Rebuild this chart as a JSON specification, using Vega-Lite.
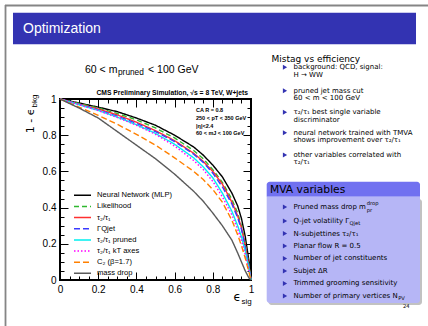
{
"$schema": "https://vega.github.io/schema/vega-lite/v6.json",
"width": 191, "height": 181,
"autosize": {"type": "none"},
"padding": {"left": 60, "top": 99, "right": 177, "bottom": 46},
"background": "white",
"config": {"view": {"stroke": "black", "strokeWidth": 2}, "text": {"font": "Liberation Sans", "color": "black"}},
"resolve": {"axis": {"x": "independent", "y": "independent"}},
"encoding": {
 "x": {"field": "x", "type": "quantitative", "scale": {"domain": [0, 1], "nice": false, "zero": false}, "axis": null},
 "y": {"field": "y", "type": "quantitative", "scale": {"domain": [0, 1], "nice": false, "zero": false}, "axis": null}
},
"layer": [
 {"data": {"values": [{"x": -0.288, "x2": 1.9267, "y": 1.5166, "y2": 1.5166}, {"x": -0.2853, "x2": -0.2853, "y": 1.519, "y2": -0.2541}]},
  "mark": {"type": "rule", "color": "#858585", "strokeWidth": 1.8},
  "encoding": {"x2": {"field": "x2"}, "y2": {"field": "y2"}}},
 {"data": {"values": [{"x": -0.2461, "x2": 1.8639, "y": 1.4768, "y2": 1.3022}]},
  "mark": {"type": "rect", "color": "#3333b2"},
  "encoding": {"x2": {"field": "x2"}, "y2": {"field": "y2"}}},
 {"data": {"values": [{"x": 1.0916, "x2": 1.8953, "y": 0.4475, "y2": -0.1381}]},
  "mark": {"type": "rect", "color": "#9a9a9a", "opacity": 0.6, "cornerRadius": 3},
  "encoding": {"x2": {"field": "x2"}, "y2": {"field": "y2"}}},
 {"data": {"values": [{"x": 1.0822, "x2": 1.8848, "y": 0.5431, "y2": 0.4602}]},
  "mark": {"type": "rect", "color": "#7171f0", "cornerRadiusTopLeft": 3, "cornerRadiusTopRight": 3},
  "encoding": {"x2": {"field": "x2"}, "y2": {"field": "y2"}}},
 {"data": {"values": [{"x": 1.0822, "x2": 1.8848, "y": 0.4602, "y2": -0.1271}]},
  "mark": {"type": "rect", "color": "#b6b6f6", "cornerRadiusBottomLeft": 3, "cornerRadiusBottomRight": 3},
  "encoding": {"x2": {"field": "x2"}, "y2": {"field": "y2"}}},
 {"data": {"values": [
  {"m":"Neural Network (MLP)","x":0,"y":1},{"m":"Neural Network (MLP)","x":0.1,"y":0.978},{"m":"Neural Network (MLP)","x":0.2,"y":0.955},{"m":"Neural Network (MLP)","x":0.3,"y":0.93},{"m":"Neural Network (MLP)","x":0.4,"y":0.895},{"m":"Neural Network (MLP)","x":0.5,"y":0.855},{"m":"Neural Network (MLP)","x":0.6,"y":0.8},{"m":"Neural Network (MLP)","x":0.7,"y":0.735},{"m":"Neural Network (MLP)","x":0.75,"y":0.69},{"m":"Neural Network (MLP)","x":0.8,"y":0.635},{"m":"Neural Network (MLP)","x":0.85,"y":0.57},{"m":"Neural Network (MLP)","x":0.9,"y":0.48},{"m":"Neural Network (MLP)","x":0.93,"y":0.41},{"m":"Neural Network (MLP)","x":0.95,"y":0.34},{"m":"Neural Network (MLP)","x":0.97,"y":0.24},{"m":"Neural Network (MLP)","x":0.99,"y":0.1},{"m":"Neural Network (MLP)","x":1,"y":0},
  {"m":"Likelihood","x":0,"y":1},{"m":"Likelihood","x":0.1,"y":0.975},{"m":"Likelihood","x":0.2,"y":0.95},{"m":"Likelihood","x":0.3,"y":0.92},{"m":"Likelihood","x":0.4,"y":0.885},{"m":"Likelihood","x":0.5,"y":0.84},{"m":"Likelihood","x":0.6,"y":0.785},{"m":"Likelihood","x":0.7,"y":0.715},{"m":"Likelihood","x":0.75,"y":0.67},{"m":"Likelihood","x":0.8,"y":0.61},{"m":"Likelihood","x":0.85,"y":0.54},{"m":"Likelihood","x":0.9,"y":0.445},{"m":"Likelihood","x":0.93,"y":0.37},{"m":"Likelihood","x":0.95,"y":0.3},{"m":"Likelihood","x":0.97,"y":0.2},{"m":"Likelihood","x":0.99,"y":0.08},{"m":"Likelihood","x":1,"y":0},
  {"m":"τ₂/τ₁","x":0,"y":1},{"m":"τ₂/τ₁","x":0.1,"y":0.972},{"m":"τ₂/τ₁","x":0.2,"y":0.945},{"m":"τ₂/τ₁","x":0.3,"y":0.912},{"m":"τ₂/τ₁","x":0.4,"y":0.872},{"m":"τ₂/τ₁","x":0.5,"y":0.825},{"m":"τ₂/τ₁","x":0.6,"y":0.77},{"m":"τ₂/τ₁","x":0.7,"y":0.7},{"m":"τ₂/τ₁","x":0.75,"y":0.655},{"m":"τ₂/τ₁","x":0.8,"y":0.6},{"m":"τ₂/τ₁","x":0.85,"y":0.53},{"m":"τ₂/τ₁","x":0.9,"y":0.43},{"m":"τ₂/τ₁","x":0.93,"y":0.355},{"m":"τ₂/τ₁","x":0.95,"y":0.29},{"m":"τ₂/τ₁","x":0.97,"y":0.19},{"m":"τ₂/τ₁","x":0.99,"y":0.07},{"m":"τ₂/τ₁","x":1,"y":0},
  {"m":"ΓQjet","x":0,"y":1},{"m":"ΓQjet","x":0.1,"y":0.97},{"m":"ΓQjet","x":0.2,"y":0.94},{"m":"ΓQjet","x":0.3,"y":0.905},{"m":"ΓQjet","x":0.4,"y":0.865},{"m":"ΓQjet","x":0.5,"y":0.82},{"m":"ΓQjet","x":0.6,"y":0.765},{"m":"ΓQjet","x":0.7,"y":0.695},{"m":"ΓQjet","x":0.75,"y":0.65},{"m":"ΓQjet","x":0.8,"y":0.59},{"m":"ΓQjet","x":0.85,"y":0.515},{"m":"ΓQjet","x":0.9,"y":0.42},{"m":"ΓQjet","x":0.93,"y":0.345},{"m":"ΓQjet","x":0.95,"y":0.28},{"m":"ΓQjet","x":0.97,"y":0.18},{"m":"ΓQjet","x":0.99,"y":0.07},{"m":"ΓQjet","x":1,"y":0},
  {"m":"τ₂/τ₁ pruned","x":0,"y":1},{"m":"τ₂/τ₁ pruned","x":0.1,"y":0.968},{"m":"τ₂/τ₁ pruned","x":0.2,"y":0.937},{"m":"τ₂/τ₁ pruned","x":0.3,"y":0.9},{"m":"τ₂/τ₁ pruned","x":0.4,"y":0.858},{"m":"τ₂/τ₁ pruned","x":0.5,"y":0.81},{"m":"τ₂/τ₁ pruned","x":0.6,"y":0.75},{"m":"τ₂/τ₁ pruned","x":0.7,"y":0.675},{"m":"τ₂/τ₁ pruned","x":0.75,"y":0.625},{"m":"τ₂/τ₁ pruned","x":0.8,"y":0.565},{"m":"τ₂/τ₁ pruned","x":0.85,"y":0.48},{"m":"τ₂/τ₁ pruned","x":0.9,"y":0.38},{"m":"τ₂/τ₁ pruned","x":0.93,"y":0.3},{"m":"τ₂/τ₁ pruned","x":0.95,"y":0.24},{"m":"τ₂/τ₁ pruned","x":0.97,"y":0.16},{"m":"τ₂/τ₁ pruned","x":0.99,"y":0.06},{"m":"τ₂/τ₁ pruned","x":1,"y":0},
  {"m":"τ₂/τ₁ kT axes","x":0,"y":1},{"m":"τ₂/τ₁ kT axes","x":0.1,"y":0.968},{"m":"τ₂/τ₁ kT axes","x":0.2,"y":0.936},{"m":"τ₂/τ₁ kT axes","x":0.3,"y":0.898},{"m":"τ₂/τ₁ kT axes","x":0.4,"y":0.855},{"m":"τ₂/τ₁ kT axes","x":0.5,"y":0.805},{"m":"τ₂/τ₁ kT axes","x":0.6,"y":0.74},{"m":"τ₂/τ₁ kT axes","x":0.7,"y":0.66},{"m":"τ₂/τ₁ kT axes","x":0.75,"y":0.61},{"m":"τ₂/τ₁ kT axes","x":0.8,"y":0.545},{"m":"τ₂/τ₁ kT axes","x":0.85,"y":0.46},{"m":"τ₂/τ₁ kT axes","x":0.9,"y":0.36},{"m":"τ₂/τ₁ kT axes","x":0.93,"y":0.28},{"m":"τ₂/τ₁ kT axes","x":0.95,"y":0.22},{"m":"τ₂/τ₁ kT axes","x":0.97,"y":0.14},{"m":"τ₂/τ₁ kT axes","x":0.99,"y":0.05},{"m":"τ₂/τ₁ kT axes","x":1,"y":0},
  {"m":"C₂ (β=1.7)","x":0,"y":1},{"m":"C₂ (β=1.7)","x":0.1,"y":0.955},{"m":"C₂ (β=1.7)","x":0.2,"y":0.91},{"m":"C₂ (β=1.7)","x":0.3,"y":0.86},{"m":"C₂ (β=1.7)","x":0.4,"y":0.805},{"m":"C₂ (β=1.7)","x":0.5,"y":0.745},{"m":"C₂ (β=1.7)","x":0.6,"y":0.675},{"m":"C₂ (β=1.7)","x":0.7,"y":0.6},{"m":"C₂ (β=1.7)","x":0.75,"y":0.555},{"m":"C₂ (β=1.7)","x":0.8,"y":0.5},{"m":"C₂ (β=1.7)","x":0.85,"y":0.43},{"m":"C₂ (β=1.7)","x":0.9,"y":0.33},{"m":"C₂ (β=1.7)","x":0.93,"y":0.25},{"m":"C₂ (β=1.7)","x":0.95,"y":0.19},{"m":"C₂ (β=1.7)","x":0.97,"y":0.12},{"m":"C₂ (β=1.7)","x":0.99,"y":0.04},{"m":"C₂ (β=1.7)","x":1,"y":0},
  {"m":"mass drop","x":0,"y":1},{"m":"mass drop","x":0.1,"y":0.95},{"m":"mass drop","x":0.2,"y":0.895},{"m":"mass drop","x":0.3,"y":0.82},{"m":"mass drop","x":0.4,"y":0.745},{"m":"mass drop","x":0.5,"y":0.67},{"m":"mass drop","x":0.6,"y":0.585},{"m":"mass drop","x":0.7,"y":0.49},{"m":"mass drop","x":0.75,"y":0.435},{"m":"mass drop","x":0.8,"y":0.37},{"m":"mass drop","x":0.85,"y":0.3},{"m":"mass drop","x":0.9,"y":0.22},{"m":"mass drop","x":0.93,"y":0.15},{"m":"mass drop","x":0.95,"y":0.1},{"m":"mass drop","x":0.97,"y":0.05},{"m":"mass drop","x":0.99,"y":0.01},{"m":"mass drop","x":1,"y":0}
 ]},
  "mark": {"type": "line", "strokeWidth": 1.4},
  "encoding": {
   "x": {"field": "x", "type": "quantitative", "scale": {"domain": [0, 1], "nice": false, "zero": false},
    "axis": {"orient": "bottom", "values": [0, 0.2, 0.4, 0.6, 0.8, 1], "format": "~g", "title": null, "domain": false, "grid": false, "tickSize": -8, "tickColor": "black", "tickWidth": 1, "labelFontSize": 10, "labelFont": "Liberation Sans", "labelColor": "black", "labelPadding": 12.5, "labelFlush": false, "labelOverlap": false}},
   "y": {"field": "y", "type": "quantitative", "scale": {"domain": [0, 1], "nice": false, "zero": false},
    "axis": {"orient": "left", "values": [0, 0.2, 0.4, 0.6, 0.8, 1], "format": "~g", "title": null, "domain": false, "grid": false, "tickSize": -8, "tickColor": "black", "tickWidth": 1, "labelFontSize": 10, "labelFont": "Liberation Sans", "labelColor": "black", "labelPadding": 12, "labelFlush": false, "labelOverlap": false}},
   "color": {"field": "m", "type": "nominal",
    "scale": {"domain": ["Neural Network (MLP)", "Likelihood", "τ₂/τ₁", "ΓQjet", "τ₂/τ₁ pruned", "τ₂/τ₁ kT axes", "C₂ (β=1.7)", "mass drop"],
              "range": ["#000000", "#2fb82f", "#ff3030", "#3a3aff", "#00f0f0", "#ff00ff", "#ff8000", "#5a5a5a"]},
    "legend": {"title": null, "orient": "none", "legendX": 13, "legendY": 92.5, "symbolType": "stroke", "symbolSize": 289, "symbolStrokeWidth": 1.5, "clipHeight": 7.6, "rowPadding": 2.15, "labelFontSize": 7.6, "labelFont": "Liberation Sans", "labelColor": "black", "labelOffset": 5, "padding": 0, "labelLimit": 200}},
   "strokeDash": {"field": "m", "type": "nominal",
    "scale": {"domain": ["Neural Network (MLP)", "Likelihood", "τ₂/τ₁", "ΓQjet", "τ₂/τ₁ pruned", "τ₂/τ₁ kT axes", "C₂ (β=1.7)", "mass drop"],
              "range": [[1, 0], [5, 3], [1, 0], [6, 3], [1, 0], [1.5, 2], [6, 3], [1, 0]]},
    "legend": {"title": null, "orient": "none", "legendX": 13, "legendY": 92.5, "symbolType": "stroke", "symbolSize": 289, "symbolStrokeWidth": 1.5, "clipHeight": 7.6, "rowPadding": 2.15, "labelFontSize": 7.6, "labelFont": "Liberation Sans", "labelColor": "black", "labelOffset": 5, "padding": 0, "labelLimit": 200}}
  }},
 {"data": {"values": [{"t": "CMS Preliminary Simulation,  √s = 8 TeV, W+jets", "x": 0.9843, "y": 1.0304}]},
  "mark": {"type": "text", "align": "right", "baseline": "middle", "fontSize": 6.75, "fontWeight": "bold"},
  "encoding": {"text": {"field": "t"},
   "x": {"field": "x", "type": "quantitative", "scale": {"domain": [0, 1], "nice": false, "zero": false},
    "axis": {"orient": "bottom", "values": [0.05, 0.1, 0.15, 0.25, 0.3, 0.35, 0.45, 0.5, 0.55, 0.65, 0.7, 0.75, 0.85, 0.9, 0.95], "labels": false, "title": null, "domain": false, "grid": false, "tickSize": -4, "tickColor": "black", "tickWidth": 1}},
   "y": {"field": "y", "type": "quantitative", "scale": {"domain": [0, 1], "nice": false, "zero": false},
    "axis": {"orient": "left", "values": [0.05, 0.1, 0.15, 0.25, 0.3, 0.35, 0.45, 0.5, 0.55, 0.65, 0.7, 0.75, 0.85, 0.9, 0.95], "labels": false, "title": null, "domain": false, "grid": false, "tickSize": -4, "tickColor": "black", "tickWidth": 1}}}},
 {"data": {"values": [{"t": "CA R = 0.8", "x": 0.712, "y": 0.9392}, {"t": "250 < pT < 350 GeV", "x": 0.712, "y": 0.8934}, {"t": "|η|<2.4", "x": 0.712, "y": 0.8508}, {"t": "60 < mJ < 100 GeV", "x": 0.712, "y": 0.8105}]},
  "mark": {"type": "text", "align": "left", "baseline": "middle", "fontSize": 5.5, "fontWeight": "bold"},
  "encoding": {"text": {"field": "t"},
   "x": {"field": "x", "type": "quantitative", "scale": {"domain": [0, 1], "nice": false, "zero": false},
    "axis": {"orient": "top", "values": [0, 0.2, 0.4, 0.6, 0.8, 1], "labels": false, "title": null, "domain": false, "grid": false, "tickSize": -8, "tickColor": "black", "tickWidth": 1}},
   "y": {"field": "y", "type": "quantitative", "scale": {"domain": [0, 1], "nice": false, "zero": false},
    "axis": {"orient": "right", "values": [0, 0.2, 0.4, 0.6, 0.8, 1], "labels": false, "title": null, "domain": false, "grid": false, "tickSize": -8, "tickColor": "black", "tickWidth": 1}}}},
 {"data": {"values": [{"t": "60 < m", "x": 0.1309, "y": 1.1602}, {"t": "< 100 GeV", "x": 0.4607, "y": 1.1602}]},
  "mark": {"type": "text", "align": "left", "baseline": "middle", "fontSize": 10.5},
  "encoding": {"text": {"field": "t"},
   "x": {"field": "x", "type": "quantitative", "scale": {"domain": [0, 1], "nice": false, "zero": false},
    "axis": {"orient": "top", "values": [0.05, 0.1, 0.15, 0.25, 0.3, 0.35, 0.45, 0.5, 0.55, 0.65, 0.7, 0.75, 0.85, 0.9, 0.95], "labels": false, "title": null, "domain": false, "grid": false, "tickSize": -4, "tickColor": "black", "tickWidth": 1}},
   "y": {"field": "y", "type": "quantitative", "scale": {"domain": [0, 1], "nice": false, "zero": false},
    "axis": {"orient": "right", "values": [0.05, 0.1, 0.15, 0.25, 0.3, 0.35, 0.45, 0.5, 0.55, 0.65, 0.7, 0.75, 0.85, 0.9, 0.95], "labels": false, "title": null, "domain": false, "grid": false, "tickSize": -4, "tickColor": "black", "tickWidth": 1}}}},
 {"data": {"values": [{"t": "pruned", "x": 0.3037, "y": 1.1464}]},
  "mark": {"type": "text", "align": "left", "baseline": "middle", "fontSize": 8.3},
  "encoding": {"text": {"field": "t"}}},
 {"data": {"values": [{"t": "ϵ", "x": 0.9084, "y": -0.0939}]},
  "mark": {"type": "text", "align": "left", "baseline": "middle", "fontSize": 12, "font": "DejaVu Sans"},
  "encoding": {"text": {"field": "t"}}},
 {"data": {"values": [{"t": "sig", "x": 0.9503, "y": -0.1188}]},
  "mark": {"type": "text", "align": "left", "baseline": "middle", "fontSize": 8},
  "encoding": {"text": {"field": "t"}}},
 {"data": {"values": [{"t": "1 - ϵ", "x": -0.1518, "y": 0.9475}]},
  "mark": {"type": "text", "align": "right", "baseline": "middle", "fontSize": 11, "angle": 270, "font": "DejaVu Sans"},
  "encoding": {"text": {"field": "t"}}},
 {"data": {"values": [{"t": "bkg", "x": -0.1335, "y": 0.953}]},
  "mark": {"type": "text", "align": "left", "baseline": "middle", "fontSize": 8, "angle": 270},
  "encoding": {"text": {"field": "t"}}},
 {"data": {"values": [{"t": "Optimization", "x": -0.1937, "y": 1.3867}]},
  "mark": {"type": "text", "align": "left", "baseline": "middle", "fontSize": 14, "color": "white"},
  "encoding": {"text": {"field": "t"}}},
 {"data": {"values": [{"t": "Mistag vs efficiency", "x": 1.1073, "y": 1.221}]},
  "mark": {"type": "text", "align": "left", "baseline": "middle", "fontSize": 9, "font": "DejaVu Sans"},
  "encoding": {"text": {"field": "t"}}},
 {"data": {"values": [{"t": "MVA variables", "x": 1.0995, "y": 0.5}]},
  "mark": {"type": "text", "align": "left", "baseline": "middle", "fontSize": 10.7, "font": "DejaVu Sans"},
  "encoding": {"text": {"field": "t"}}},
 {"data": {"values": [{"x": 1.178, "y": 1.1751}, {"x": 1.178, "y": 1.0459}, {"x": 1.178, "y": 0.9265}, {"x": 1.178, "y": 0.8138}, {"x": 1.178, "y": 0.6906}, {"x": 1.178, "y": 0.4033}, {"x": 1.178, "y": 0.326}, {"x": 1.178, "y": 0.2569}, {"x": 1.178, "y": 0.1878}, {"x": 1.178, "y": 0.1188}, {"x": 1.178, "y": 0.0497}, {"x": 1.178, "y": -0.0193}, {"x": 1.178, "y": -0.0884}]},
  "mark": {"type": "point", "shape": "triangle-right", "filled": true, "size": 24, "color": "#3333b2", "opacity": 1},
  "encoding": {}},
 {"data": {"values": [
  {"t": "background: QCD, signal:", "x": 1.2225, "y": 1.1751},
  {"t": "H → WW", "x": 1.2225, "y": 1.1326},
  {"t": "pruned jet mass cut", "x": 1.2225, "y": 1.0459},
  {"t": "60 < m < 100 GeV", "x": 1.2225, "y": 1.0039},
  {"t": "τ₂/τ₁ best single variable", "x": 1.2225, "y": 0.9265},
  {"t": "discriminator", "x": 1.2225, "y": 0.884},
  {"t": "neural network trained with TMVA", "x": 1.2225, "y": 0.8138},
  {"t": "shows improvement over τ₂/τ₁", "x": 1.2225, "y": 0.7735},
  {"t": "other variables correlated with", "x": 1.2225, "y": 0.6906},
  {"t": "τ₂/τ₁", "x": 1.2225, "y": 0.6492},
  {"t": "Pruned mass drop m", "x": 1.2225, "y": 0.4033},
  {"t": "Q-jet volatility Γ", "x": 1.2225, "y": 0.326},
  {"t": "N-subjettines τ₂/τ₁", "x": 1.2225, "y": 0.2569},
  {"t": "Planar flow R = 0.5", "x": 1.2225, "y": 0.1878},
  {"t": "Number of jet constituents", "x": 1.2225, "y": 0.1188},
  {"t": "Subjet ΔR", "x": 1.2225, "y": 0.0497},
  {"t": "Trimmed grooming sensitivity", "x": 1.2225, "y": -0.0193},
  {"t": "Number of primary vertices N", "x": 1.2225, "y": -0.0884}
 ]},
  "mark": {"type": "text", "align": "left", "baseline": "middle", "fontSize": 7, "font": "DejaVu Sans"},
  "encoding": {"text": {"field": "t"}}},
 {"data": {"values": [{"t": "drop", "x": 1.6058, "y": 0.4227}, {"t": "pr", "x": 1.6058, "y": 0.3867}, {"t": "Qjet", "x": 1.5157, "y": 0.3122}, {"t": "PV", "x": 1.7707, "y": -0.0994}, {"t": "24", "x": 1.7958, "y": -0.1464}]},
  "mark": {"type": "text", "align": "left", "baseline": "middle", "fontSize": 5.2, "font": "DejaVu Sans"},
  "encoding": {"text": {"field": "t"}}}
]
}
